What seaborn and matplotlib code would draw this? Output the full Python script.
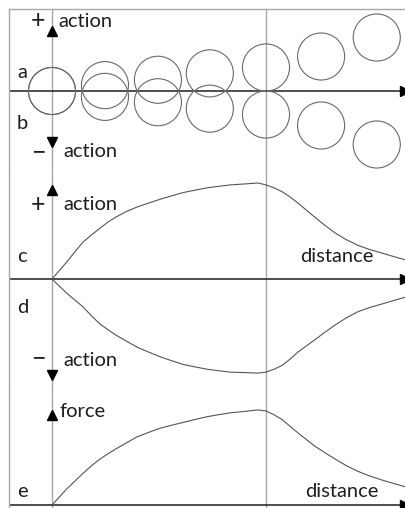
import numpy as np
import matplotlib
matplotlib.use("Agg")
import matplotlib.pyplot as plt
from matplotlib.patches import Circle
import seaborn as sns

# panel a/b: centres of the two bodies (distance, vertical offset)
circle_distance = [0, 0.99, 1.98, 2.95, 4.0, 5.03, 6.07]
circle_offset = [0, 0.11, 0.21, 0.33, 0.44, 0.645, 1.0]
circle_radius = 0.44

# panels c, d, e: curves (peak of c = 1)
curve_distance = [0, 0.14, 0.28, 0.43, 0.58, 0.74, 0.90, 1.05, 1.21, 1.40,
                  1.59, 1.80, 2.02, 2.23, 2.45, 2.67, 2.90, 3.11, 3.33, 3.60,
                  3.85, 4.0, 4.15, 4.30, 4.45, 4.60, 4.76, 4.92, 5.10, 5.29,
                  5.50, 5.72, 5.95, 6.17, 6.38, 6.60]
action_plus = [0, 0.09, 0.18, 0.285, 0.385, 0.46, 0.53, 0.595, 0.65, 0.705,
               0.75, 0.79, 0.83, 0.865, 0.90, 0.925, 0.95, 0.965, 0.98, 0.99,
               1.0, 0.98, 0.95, 0.91, 0.855, 0.79, 0.715, 0.64, 0.56, 0.48,
               0.41, 0.35, 0.305, 0.27, 0.235, 0.20]
action_minus = [0, 0.075, 0.15, 0.22, 0.29, 0.385, 0.47, 0.53, 0.59, 0.65,
                0.71, 0.76, 0.81, 0.85, 0.89, 0.915, 0.94, 0.955, 0.97, 0.975,
                0.98, 0.97, 0.94, 0.90, 0.835, 0.76, 0.695, 0.63, 0.555, 0.48,
                0.405, 0.34, 0.295, 0.26, 0.225, 0.19]
force = [0, 0.085, 0.17, 0.25, 0.33, 0.41, 0.48, 0.535, 0.59, 0.65,
         0.71, 0.755, 0.80, 0.83, 0.86, 0.89, 0.92, 0.94, 0.96, 0.975,
         0.99, 0.98, 0.94, 0.89, 0.82, 0.75, 0.68, 0.61, 0.545, 0.48,
         0.41, 0.35, 0.30, 0.26, 0.225, 0.19]

contact = circle_distance[4]

# layout in pixels
W, H = 405, 508
LEFT = 9
X0 = 52
UNIT = 53.5
SCALE = 96
GRAY = "#a8a8a8"
DARK = "#1e1e1e"
CURVE = "#555555"

sns.set_style("white")
plt.rcParams["font.family"] = ["Lato", "DejaVu Sans"]

fig = plt.figure(figsize=(W / 100, H / 100), dpi=100)


def add_panel(top, bottom, base, unit):
    ax = fig.add_axes([LEFT / W, 1 - bottom / H, (W - LEFT) / W, (bottom - top) / H])
    ax.set_xlim(-(X0 - LEFT) / UNIT, (W - X0) / UNIT)
    ax.set_ylim(-(bottom - base) / unit, (base - top) / unit)
    ax.patch.set_visible(False)
    ax.set_xticks([])
    ax.set_yticks([])
    for s in ax.spines.values():
        s.set_visible(False)
    ax.spines["left"].set_visible(True)
    ax.spines["left"].set_color(GRAY)
    ax.spines["left"].set_linewidth(1.0)
    ax.axvline(0, color=GRAY, lw=1.0, zorder=1)
    ax.axvline(contact, color=GRAY, lw=1.0, zorder=1)
    ax.axhline(0, color=DARK, lw=1.1, zorder=2)
    # arrow head at the end of the distance axis
    ax.plot([(W - 0.5 - X0) / UNIT], [0], marker=">", ms=7, color="black",
            clip_on=False, zorder=5)
    return ax


def head(ax, y, up=True):
    ax.plot([0], [y], marker="^" if up else "v", ms=7, color="black",
            clip_on=False, zorder=5)


ax1 = add_panel(9, 170, 91, UNIT)
ax1.spines["top"].set_visible(True)
ax1.spines["top"].set_color(GRAY)
ax1.spines["top"].set_linewidth(1.0)
ax2 = add_panel(170, 392, 279, SCALE)
ax3 = add_panel(392, 508, 505, SCALE)

# circles above and below the axis
for d, o in zip(circle_distance, circle_offset):
    for sign in (1, -1):
        ax1.add_patch(Circle((d, sign * o), circle_radius, fill=False,
                             ec="#6a6a6a", lw=0.8, zorder=3))

sns.lineplot(x=curve_distance, y=action_plus, ax=ax2, color=CURVE, lw=0.8)
sns.lineplot(x=curve_distance, y=-np.array(action_minus), ax=ax2, color=CURVE, lw=0.8)
sns.lineplot(x=curve_distance, y=force, ax=ax3, color=CURVE, lw=0.8)

head(ax1, (91 - 31) / UNIT, up=True)
head(ax1, -(142 - 91) / UNIT, up=False)
head(ax2, (279 - 190) / SCALE, up=True)
head(ax2, -(375 - 279) / SCALE, up=False)
head(ax3, (505 - 415) / SCALE, up=True)


def label(x, y, s, ha="left", va="baseline", size=14.5):
    fig.text(x / W, 1 - y / H, s, ha=ha, va=va, fontsize=size, color=DARK)


label(38, 21, "+", ha="center", va="center", size=18)
label(58, 27, "action")
label(17, 78, "a")
label(17, 129, "b")
label(38, 152, "\u2212", ha="center", va="center", size=18)
label(63, 157, "action")

label(38, 204, "+", ha="center", va="center", size=18)
label(63, 210, "action")
label(17, 262, "c")
label(300, 262, "distance")
label(17, 313, "d")
label(38, 358, "\u2212", ha="center", va="center", size=18)
label(63, 366, "action")

label(60, 417, "force")
label(17, 497, "e")
label(305, 497, "distance")

fig.savefig("out.png", dpi=100)
